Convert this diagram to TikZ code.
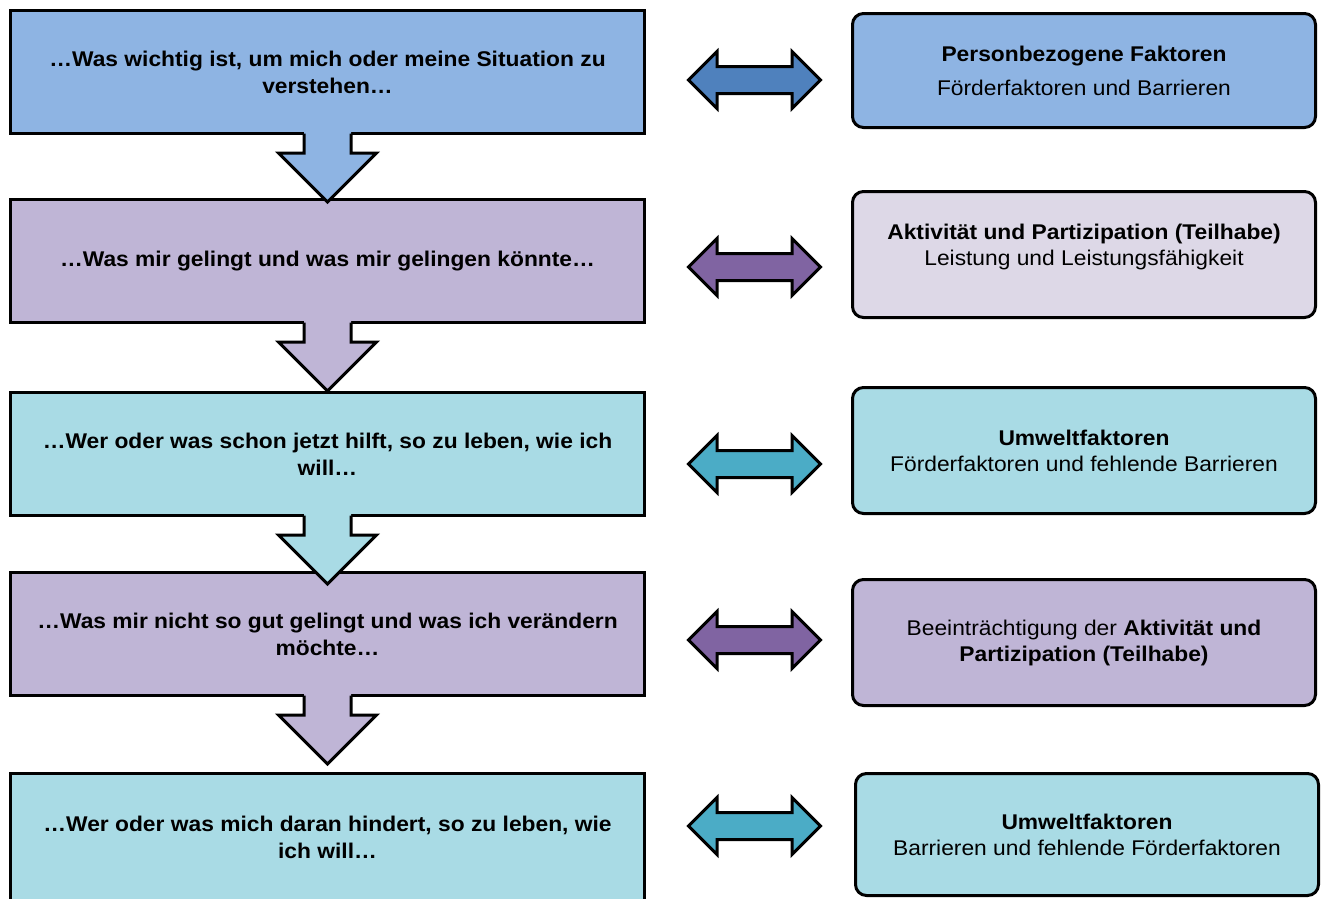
\documentclass[tikz,border=0pt]{standalone}
\usepackage{fontspec}
\setmainfont{Liberation Sans}[FakeStretch=1.07]
\usetikzlibrary{shapes.arrows}

\definecolor{hellblau}{HTML}{8EB4E3}
\definecolor{lila}{HTML}{BFB5D6}
\definecolor{helllila}{HTML}{DDD8E7}
\definecolor{tuerkis}{HTML}{A9DBE5}
\definecolor{pfeilblau}{HTML}{4F81BD}
\definecolor{pfeillila}{HTML}{8064A2}
\definecolor{pfeiltuerkis}{HTML}{4BACC6}

\tikzset{
  frage/.style={draw,line width=3pt,minimum width=634pt,minimum height=123pt,inner sep=0pt,align=center,font=\fontsize{21.3}{27}\selectfont\bfseries},
  faktor/.style={draw,line width=3pt,rounded corners=11pt,minimum width=463pt,minimum height=126pt,inner sep=0pt,align=center,font=\fontsize{21.3}{26}\selectfont},
  doppelpfeil/.style={draw,line width=3pt,shape=double arrow,minimum height=132pt,inner xsep=0pt,inner ysep=12pt,double arrow head extend=15pt,double arrow head indent=0pt}
}

\begin{document}
\begin{tikzpicture}[x=1pt,y=-1pt]
\useasboundingbox (0,0) rectangle (1322,898);
\node[frage,fill=hellblau] (f1) at (327.5,72){…Was wichtig ist, um mich oder meine Situation zu\\verstehen…};
\node[frage,fill=lila] (f2) at (327.5,261){…Was mir gelingt und was mir gelingen könnte…};
\node[frage,fill=tuerkis] (f3) at (327.5,454){…Wer oder was schon jetzt hilft, so zu leben, wie ich\\will…};
\node[frage,fill=lila] (f4) at (327.5,634){…Was mir nicht so gut gelingt und was ich verändern\\möchte…};
\node[frage,fill=tuerkis,minimum height=127pt] (f5) at (327.5,837){…Wer oder was mich daran hindert, so zu leben, wie\\ich will…};

\node[faktor,fill=hellblau,minimum height=114pt] (k1) at (1084,70.5){\textbf{Personbezogene Faktoren}\\[8pt]Förderfaktoren und Barrieren};
\node[faktor,fill=helllila] (k2) at (1084,254.5){\textbf{Aktivität und Partizipation (Teilhabe)}\\Leistung und Leistungsfähigkeit\\[-6pt]\mbox{}};
\node[faktor,fill=tuerkis] (k3) at (1084,450.5){\textbf{Umweltfaktoren}\\Förderfaktoren und fehlende Barrieren};
\node[faktor,fill=lila] (k4) at (1084,642.5){Beeinträchtigung der \textbf{Aktivität und}\\\textbf{Partizipation (Teilhabe)}};
\node[faktor,fill=tuerkis,minimum height=122pt] (k5) at (1087,834.5){\textbf{Umweltfaktoren}\\Barrieren und fehlende Förderfaktoren};

\foreach \a/\c in {f1/hellblau,f2/lila,f3/tuerkis,f4/lila}{
  \fill[\c] ([xshift=-23.5pt,yshift=4pt]\a.south) -- ++(0,22) -- ++(-25.5,0) -- ++(49,49) -- ++(49,-49) -- ++(-25.5,0) -- ++(0,-22) -- cycle;
  \draw[line width=3pt] ([xshift=-23.5pt,yshift=1.5pt]\a.south) -- ++(0,19.5) -- ++(-25.5,0) -- ++(49,49) -- ++(49,-49) -- ++(-25.5,0) -- ++(0,-19.5);
}

\node[doppelpfeil,fill=pfeilblau] (p1) at (754.5,80){};
\node[doppelpfeil,fill=pfeillila] (p2) at (754.5,267){};
\node[doppelpfeil,fill=pfeiltuerkis] (p3) at (754.5,464){};
\node[doppelpfeil,fill=pfeillila] (p4) at (754.5,640){};
\node[doppelpfeil,fill=pfeiltuerkis] (p5) at (754.5,826){};
\end{tikzpicture}
\end{document}
